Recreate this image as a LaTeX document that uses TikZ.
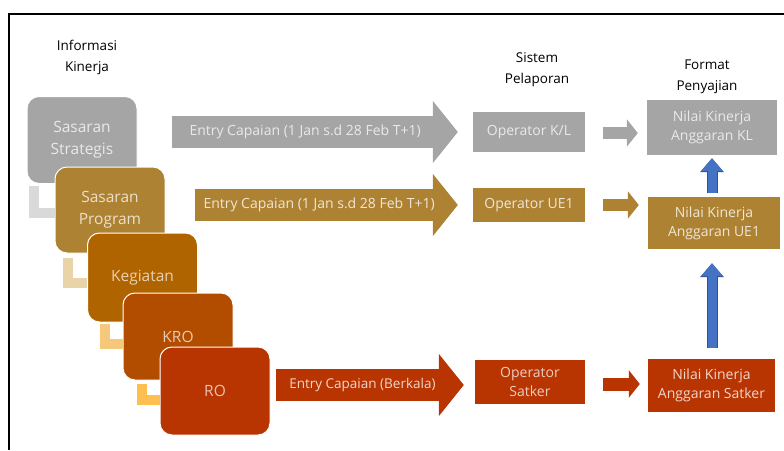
\documentclass[tikz,border=0pt]{standalone}
\usepackage{fontspec}
\setmainfont{Open Sans}
\usepackage{tikz}
\usetikzlibrary{arrows.meta}
\definecolor{abu}{HTML}{A5A5A5}
\definecolor{emas}{HTML}{AE8233}
\definecolor{coklat}{HTML}{B06400}
\definecolor{jingga}{HTML}{B24D00}
\definecolor{merah}{HTML}{B83400}
\definecolor{biru}{HTML}{4472C4}
\definecolor{birutua}{HTML}{2F528F}
\definecolor{sikuabu}{HTML}{D9D9D9}
\definecolor{sikuemas}{HTML}{E9D3A8}
\definecolor{sikucoklat}{HTML}{F6C879}
\definecolor{sikujingga}{HTML}{FDBF4F}
\tikzstyle{level}  = [rectangle, rounded corners=12pt, minimum width=110pt, minimum height=87pt, inner sep=0pt, align=center, draw=white, line width=1pt, font=\fontsize{15.5}{22}\selectfont]
\tikzstyle{opbox}  = [rectangle, minimum width=112pt, inner sep=0pt, align=center, font=\fontsize{14}{19}\selectfont]
\tikzstyle{judul}  = [align=center, font=\fontsize{13.5}{21}\selectfont]
\tikzstyle{siku}   = [line width=10pt]
\tikzstyle{panah}  = [line width=32pt, -{Triangle[width=61pt,length=25pt]}]
\tikzstyle{panahkecil} = [line width=12pt, -{Triangle[width=27pt,length=11pt]}]
\tikzstyle{naik}   = [line width=9pt, draw=biru, -{Triangle[width=21pt,length=13pt]}]
\tikzstyle{label}  = [font=\fontsize{14}{17}\selectfont]

\begin{document}
\begin{tikzpicture}[x=1pt, y=-1pt]
            \useasboundingbox (0,0) rectangle (784,450);
            % bingkai
            \draw[line width=2pt] (784,14) -- (9,14) -- (9,450);

            % 1. judul kolom
            \node (infoHead) [judul] at (87,57.5) {Informasi\\Kinerja};
            \node (sisHead) [judul] at (537,70) {Sistem\\Pelaporan};
            \node (fmtHead) [judul] at (707,77) {Format\\Penyajian};

            % 2. hierarki informasi kinerja
            \node (sasS) [level, fill=abu, text=white!75!abu] at (82,140) {Sasaran\\Strategis};
            \node (sasP) [level, fill=emas, text=white!75!emas, minimum height=86pt] at (110,210) {Sasaran\\Program};
            \node (keg) [level, fill=coklat, text=white!70!coklat, minimum height=89pt] at (142.5,277.5) {Kegiatan};
            \node (kro) [level, fill=jingga, text=white!70!jingga] at (178,336.5) {KRO};
            \node (ro) [level, fill=merah, text=white!70!merah, minimum height=88pt] at (215,391) {RO};

            % siku penghubung
            \draw [siku, draw=sikuabu] ([xshift=7pt, yshift=-2pt]sasS.south west) |- ([yshift=-2.5pt]sasP.west);
            \draw [siku, draw=sikuemas] ([xshift=13.5pt, yshift=-4pt]sasP.south west) |- ([yshift=-5.5pt]keg.west);
            \draw [siku, draw=sikucoklat] ([xshift=17.5pt, yshift=-1pt]keg.south west) |- ([yshift=-7.5pt]kro.west);
            \draw [siku, draw=sikujingga] ([xshift=19.5pt, yshift=-3pt]kro.south west) |- ([yshift=-9pt]ro.west);

            % 3. sistem pelaporan
            \node (opKL) [opbox, fill=abu, text=white!75!abu, minimum height=40pt] at (529,132) {Operator K/L};
            \node (opUE) [opbox, fill=emas, text=white!80!emas, minimum height=34pt] at (529,205) {Operator UE1};
            \node (opSat) [opbox, fill=merah, text=white!75!merah, minimum width=110pt, minimum height=44pt] at (530,382) {Operator\\Satker};

            % 4. format penyajian
            \node (nilaiKL) [opbox, fill=abu, text=white!75!abu, minimum width=130pt, minimum height=55pt] at (712,127.5) {Nilai Kinerja\\Anggaran KL};
            \node (nilaiUE) [opbox, fill=emas, text=white!80!emas, minimum width=132pt, minimum height=52pt] at (714,223) {Nilai Kinerja\\Anggaran UE1};
            \node (nilaiSat) [opbox, fill=merah, text=white!80!merah, minimum width=127pt, minimum height=53pt] at (711.5,385.5) {Nilai Kinerja\\Anggaran Satker};

            % panah entry capaian
            \draw [panah, draw=abu, shorten <=34pt, shorten >=15pt] (sasS.east |- opKL.west) -- (opKL.west)
                node[midway, label, text=white!75!abu] {Entry Capaian (1 Jan s.d 28 Feb T+1)};
            \draw [panah, draw=emas, shorten <=29pt, shorten >=15pt] (sasP.east |- opUE.west) -- (opUE.west)
                node[midway, label, text=white!80!emas] {Entry Capaian (1 Jan s.d 28 Feb T+1)};
            \draw [panah, draw=merah, shorten <=5pt, shorten >=11pt] ([yshift=-3pt]ro.east |- opSat.west) -- ([yshift=-3pt]opSat.west)
                node[pos=0.45, label, font=\fontsize{13.5}{16}\selectfont, text=white!80!merah] {Entry Capaian (Berkala)};

            % panah kecil ke format penyajian
            \draw [panahkecil, draw=abu, shorten <=18pt, shorten >=9pt] ([yshift=-1pt]opKL.east) -- ([yshift=-1pt]opKL.east -| nilaiKL.west);
            \draw [panahkecil, draw=emas, shorten <=18pt, shorten >=9pt] (opUE.east) -- (opUE.east -| nilaiUE.west);
            \draw [panahkecil, draw=merah, shorten <=18pt, shorten >=8pt, line width=13pt] ([yshift=-2pt]opSat.east) -- ([yshift=-2pt]opSat.east -| nilaiSat.west);

            % panah biru ke atas
            \draw [naik, preaction={draw=birutua, line width=11pt, -{Triangle[width=23pt,length=14pt]}}, shorten <=4pt, shorten >=3pt] (nilaiUE.north -| nilaiKL.south) -- (nilaiKL.south);
            \draw [naik, preaction={draw=birutua, line width=11pt, -{Triangle[width=23pt,length=14pt]}}, shorten <=11pt, shorten >=14pt] (nilaiSat.north -| nilaiKL.south) -- (nilaiUE.south -| nilaiKL.south);

        \end{tikzpicture}
\end{document}
